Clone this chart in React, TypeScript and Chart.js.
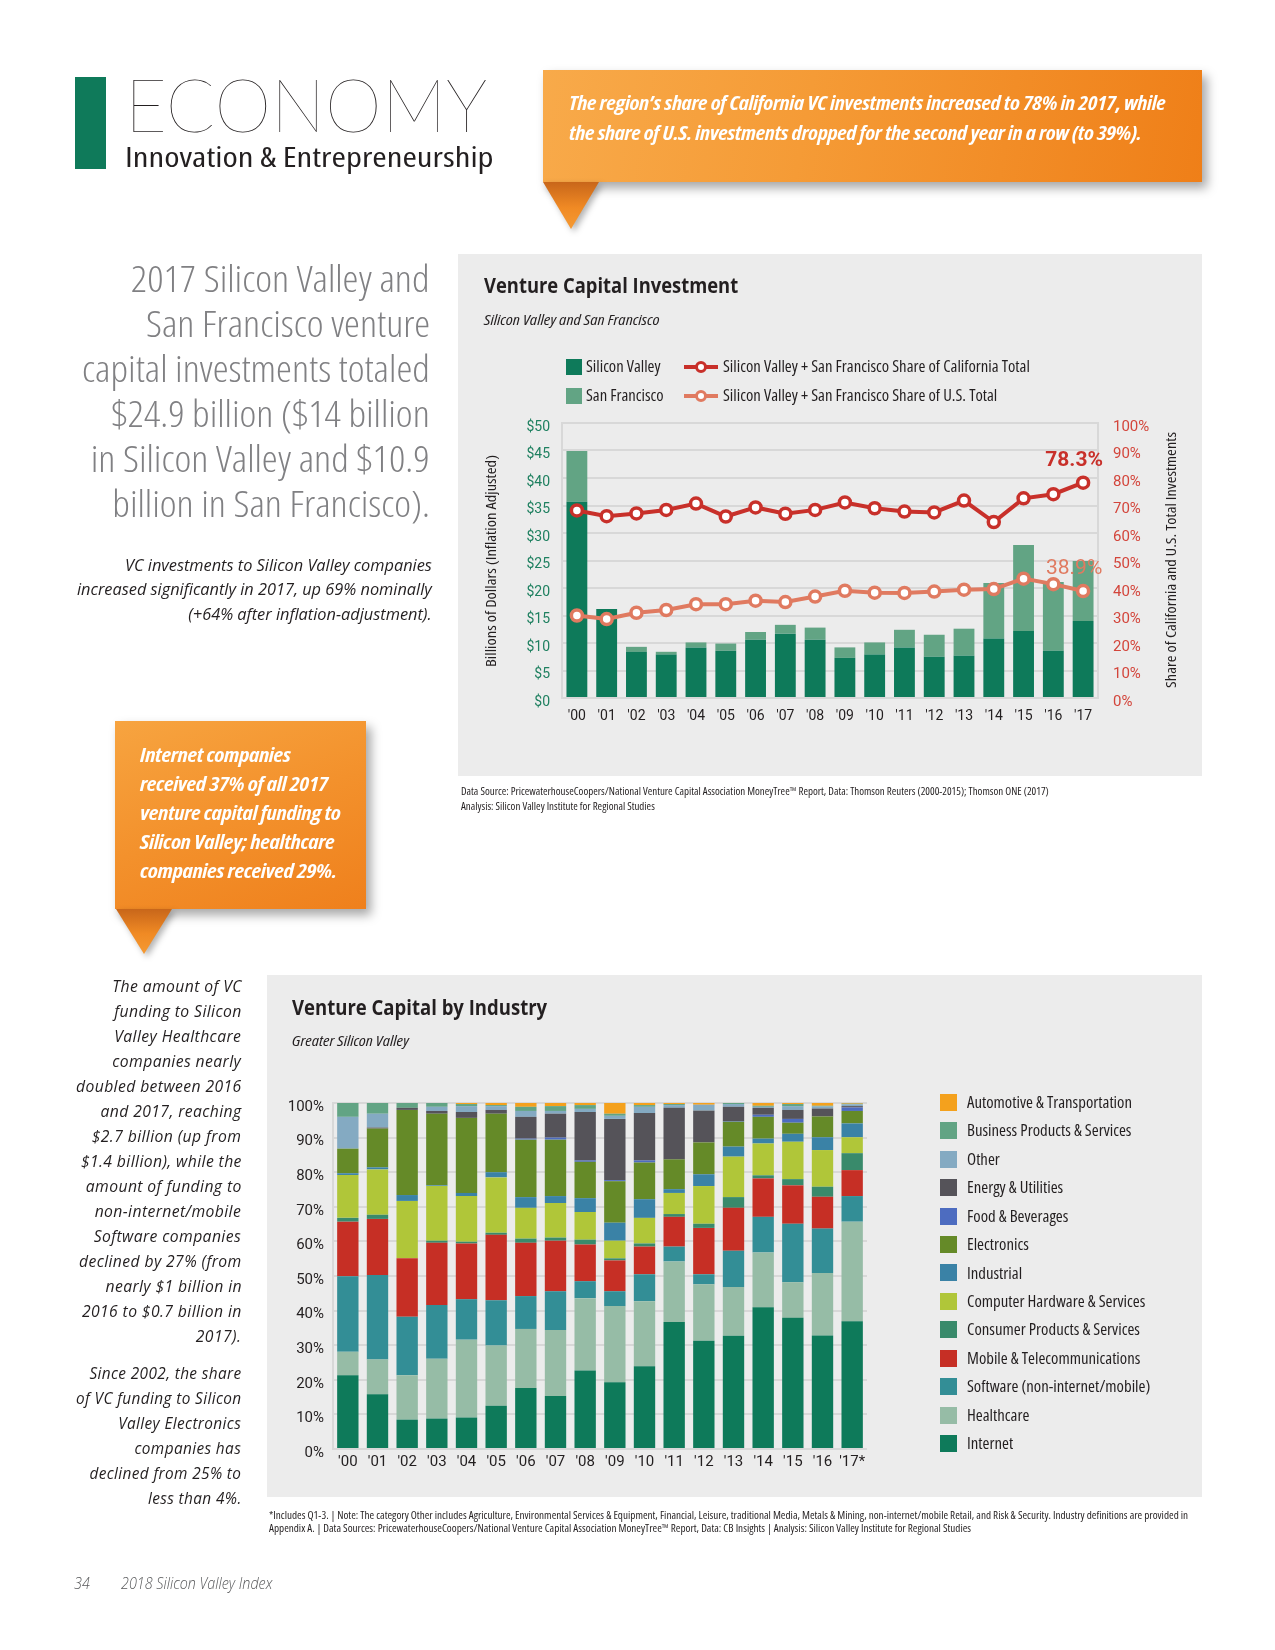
import React, { useEffect, useLayoutEffect, useRef } from 'react';
import { Chart, registerables } from 'chart.js';
Chart.register(...registerables);

// ---------- DATA: Venture Capital Investment ----------
const YEARS = ["'00", "'01", "'02", "'03", "'04", "'05", "'06", "'07", "'08", "'09", "'10", "'11", "'12", "'13", "'14", "'15", "'16", "'17"];
const SILICON_VALLEY = [35.7, 16.2, 8.4, 7.9, 9.2, 8.6, 10.6, 11.7, 10.6, 7.3, 7.9, 9.2, 7.5, 7.7, 10.8, 12.2, 8.6, 14.0];
const SAN_FRANCISCO = [9.2, 0, 0.9, 0.5, 0.9, 1.3, 1.4, 1.6, 2.2, 1.9, 2.2, 3.2, 4.0, 4.9, 10.1, 15.6, 12.5, 10.9];
const CA_SHARE = [68.2, 66.1, 67.1, 68.4, 70.7, 66.0, 69.3, 67.0, 68.4, 71.1, 69.0, 67.8, 67.5, 71.8, 64.0, 72.6, 74.1, 78.3];
const US_SHARE = [30.0, 28.7, 31.0, 32.0, 34.1, 34.1, 35.4, 34.9, 36.9, 39.0, 38.3, 38.2, 38.7, 39.4, 39.6, 43.4, 41.4, 38.9];
const TOP_BAR_NAMES = ['Silicon Valley', 'San Francisco'];
const TOP_LINE_NAMES = ['Silicon Valley + San Francisco Share of California Total', 'Silicon Valley + San Francisco Share of U.S. Total'];

// ---------- DATA: Venture Capital by Industry (% share) ----------
const IND_YEARS = ["'00", "'01", "'02", "'03", "'04", "'05", "'06", "'07", "'08", "'09", "'10", "'11", "'12", "'13", "'14", "'15", "'16", "'17*"];
const INTERNET = [21.3, 15.8, 8.5, 8.8, 9.1, 12.5, 17.6, 15.3, 22.7, 19.3, 23.9, 36.7, 31.3, 32.7, 41.0, 37.9, 32.8, 36.9];
const HEALTHCARE = [6.8, 10.1, 12.8, 17.3, 22.5, 17.4, 17.1, 19.1, 20.9, 22.0, 18.8, 17.5, 16.3, 14.1, 15.8, 10.3, 18.1, 28.8];
const SOFTWARE = [21.8, 24.4, 16.9, 15.5, 11.7, 13.1, 9.5, 11.2, 4.9, 4.3, 7.8, 4.3, 2.9, 10.5, 10.3, 16.9, 12.8, 7.4];
const MOBILE = [15.8, 16.2, 16.9, 18.0, 16.1, 18.9, 15.4, 14.6, 10.6, 8.9, 8.0, 8.6, 13.4, 12.4, 11.1, 11.1, 9.2, 7.5];
const CONSUMER = [1.1, 1.2, 0, 0.6, 0.5, 0.6, 1.2, 0.9, 1.4, 0.6, 0.9, 0.8, 1.2, 3.1, 0.9, 1.8, 2.9, 4.9];
const COMPUTER_HW = [12.4, 13.1, 16.6, 15.8, 13.2, 16.0, 8.9, 10.0, 8.0, 5.1, 7.4, 6.1, 10.9, 11.7, 9.2, 10.8, 10.6, 4.6];
const INDUSTRIAL = [0.5, 0.6, 1.7, 0.2, 0.9, 1.5, 3.1, 2.0, 4.0, 5.2, 5.4, 1.1, 3.4, 2.9, 1.4, 2.3, 3.7, 4.0];
const ELECTRONICS = [7.1, 11.2, 24.6, 20.7, 21.7, 16.9, 16.6, 16.3, 10.5, 12.0, 10.6, 8.6, 9.2, 7.2, 6.3, 3.2, 6.0, 3.6];
const FOOD = [0, 0, 0, 0, 0, 0, 0.3, 0.6, 0.4, 0.3, 0.6, 0, 0, 0.2, 0.6, 1.1, 0, 1.0];
const ENERGY = [0, 0.3, 0.6, 0.8, 1.7, 1.1, 6.3, 6.9, 14.0, 17.7, 13.7, 14.9, 9.2, 4.1, 2.0, 2.6, 2.3, 0.4];
const OTHER = [9.2, 4.0, 0, 1.2, 1.7, 1.1, 1.7, 0.8, 0.9, 0.9, 1.8, 0.8, 1.7, 0.8, 0.3, 1.1, 0.6, 0.5];
const BUSINESS = [4.0, 3.1, 1.4, 1.1, 0.6, 0.3, 1.2, 1.4, 1.1, 0.6, 0.5, 0.3, 0, 0.3, 0.3, 0.6, 0.2, 0.2];
const AUTOMOTIVE = [0, 0, 0, 0, 0.3, 0.6, 1.1, 0.9, 0.6, 3.1, 0.6, 0.3, 0.5, 0, 0.8, 0.3, 0.8, 0.2];

// ---------- STYLE ----------
const PAGE_W = 1275;
const SV_COLOR = '#0e7a5a';
const SF_COLOR = '#62a484';
const CA_COLOR = '#c8302a';
const US_COLOR = '#e07a60';
const GRID = '#d8d8d8';
const DARK = '#231f20';
const OPEN = "'Open Sans', 'Noto Sans', sans-serif";
const CANVAS_FONT = "'Liberation Sans Narrow', 'Roboto', 'Open Sans', sans-serif";

const INDUSTRY_SERIES = [
  { name: 'Internet', data: INTERNET, color: '#0e7a5a' },
  { name: 'Healthcare', data: HEALTHCARE, color: '#96bca6' },
  { name: 'Software (non-internet/mobile)', data: SOFTWARE, color: '#338e96' },
  { name: 'Mobile & Telecommunications', data: MOBILE, color: '#c62f25' },
  { name: 'Consumer Products & Services', data: CONSUMER, color: '#398a6b' },
  { name: 'Computer Hardware & Services', data: COMPUTER_HW, color: '#b0c639' },
  { name: 'Industrial', data: INDUSTRIAL, color: '#3a82a6' },
  { name: 'Electronics', data: ELECTRONICS, color: '#658a28' },
  { name: 'Food & Beverages', data: FOOD, color: '#4d6cc0' },
  { name: 'Energy & Utilities', data: ENERGY, color: '#555359' },
  { name: 'Other', data: OTHER, color: '#84aac2' },
  { name: 'Business Products & Services', data: BUSINESS, color: '#62a484' },
  { name: 'Automotive & Transportation', data: AUTOMOTIVE, color: '#f4a11d' },
];

// ---------- text helper: fits widest line to a target width ----------
type FitProps = {
  lines: string[];
  x: number;
  cy: number;
  lh: number;
  target: number;
  align?: 'left' | 'right';
  font: React.CSSProperties;
};
function FitLines({ lines, x, cy, lh, target, align = 'left', font }: FitProps) {
  const box = useRef<HTMLDivElement>(null);
  useLayoutEffect(() => {
    const run = () => {
      if (!box.current) return;
      const spans = Array.from(box.current.querySelectorAll('span')) as HTMLSpanElement[];
      const w = Math.max(...spans.map((s) => s.offsetWidth));
      const k = w > 0 ? target / w : 1;
      spans.forEach((s) => (s.style.transform = `scaleX(${k})`));
    };
    run();
    const f = (document as any).fonts;
    if (f && f.ready) f.ready.then(run);
  }, []);
  const right = align === 'right';
  return (
    <div
      ref={box}
      style={{
        position: 'absolute',
        top: cy - lh / 2,
        ...(right ? { right: PAGE_W - x } : { left: x }),
        textAlign: right ? 'right' : 'left',
        ...font,
      }}
    >
      {lines.map((t, i) => (
        <div key={i} style={{ height: lh, lineHeight: lh + 'px', whiteSpace: 'nowrap' }}>
          <span style={{ display: 'inline-block', transformOrigin: right ? 'right center' : 'left center' }}>{t}</span>
        </div>
      ))}
    </div>
  );
}

function RotLabel({ text, cx, cy, len, font }: { text: string; cx: number; cy: number; len: number; font: React.CSSProperties }) {
  const ref = useRef<HTMLSpanElement>(null);
  useLayoutEffect(() => {
    const run = () => {
      const s = ref.current;
      if (!s) return;
      const w = s.offsetWidth; // layout width, unaffected by the rotation
      if (w > 0) s.style.transform = `scaleX(${len / w})`;
    };
    run();
    const f = (document as any).fonts;
    if (f && f.ready) f.ready.then(run);
  }, []);
  return (
    <div
      style={{
        position: 'absolute',
        left: cx,
        top: cy,
        transform: 'translate(-50%, -50%) rotate(-90deg)',
        whiteSpace: 'nowrap',
        lineHeight: '20px',
        ...font,
      }}
    >
      <span ref={ref} style={{ display: 'inline-block', transformOrigin: 'center center' }}>{text}</span>
    </div>
  );
}

// ---------- Top chart ----------
const endLabelPlugin = {
  id: 'endLabels',
  afterDatasetsDraw(chart: any) {
    const ctx = chart.ctx;
    const items = [
      { idx: 0, text: CA_SHARE[CA_SHARE.length - 1].toFixed(1) + '%', color: CA_COLOR, weight: '700' },
      { idx: 1, text: US_SHARE[US_SHARE.length - 1].toFixed(1) + '%', color: US_COLOR, weight: '400' },
    ];
    ctx.save();
    items.forEach((it) => {
      const meta = chart.getDatasetMeta(it.idx);
      const pt = meta.data[meta.data.length - 1];
      ctx.font = `${it.weight} 21px ${CANVAS_FONT}`;
      ctx.fillStyle = it.color;
      ctx.textAlign = 'center';
      ctx.textBaseline = 'middle';
      ctx.fillText(it.text, pt.x - 9, pt.y - 22);
    });
    ctx.restore();
  },
};

function TopChart() {
  const ref = useRef<HTMLCanvasElement>(null);
  useEffect(() => {
    const lineDs = (label: string, data: number[], color: string, order: number) => ({
      type: 'line' as const,
      label,
      data,
      yAxisID: 'y1',
      borderColor: color,
      borderWidth: 4,
      pointRadius: 5.5,
      pointBorderWidth: 3.5,
      pointBackgroundColor: '#ffffff',
      pointBorderColor: color,
      order,
    });
    const chart = new Chart(ref.current!, {
      type: 'bar',
      data: {
        labels: YEARS,
        datasets: [
          lineDs(TOP_LINE_NAMES[0], CA_SHARE, CA_COLOR, 1) as any,
          lineDs(TOP_LINE_NAMES[1], US_SHARE, US_COLOR, 2) as any,
          { type: 'bar', label: TOP_BAR_NAMES[0], data: SILICON_VALLEY, backgroundColor: SV_COLOR, yAxisID: 'y', stack: 's', order: 3, barPercentage: 0.7, categoryPercentage: 1 },
          { type: 'bar', label: TOP_BAR_NAMES[1], data: SAN_FRANCISCO, backgroundColor: SF_COLOR, yAxisID: 'y', stack: 's', order: 4, barPercentage: 0.7, categoryPercentage: 1 },
        ],
      },
      options: {
        responsive: false,
        animation: false,
        layout: { padding: { top: 23, left: 0, right: 0, bottom: 0 } },
        plugins: { legend: { display: false }, tooltip: { enabled: false } },
        scales: {
          x: {
            stacked: true,
            grid: { display: false },
            border: { display: false },
            ticks: { color: DARK, font: { family: CANVAS_FONT, size: 14 }, padding: 2, maxRotation: 0 },
            afterFit: (s: any) => { s.height = 42; },
          },
          y: {
            stacked: true,
            position: 'left',
            min: 0,
            max: 50,
            ticks: { stepSize: 5, callback: (v: any) => '$' + v, color: '#1f8060', font: { family: CANVAS_FONT, size: 14 }, padding: 12, labelOffset: 4 },
            grid: { color: GRID, lineWidth: 2, drawTicks: false },
            border: { display: true, color: GRID, width: 2 },
            afterFit: (s: any) => { s.width = 102; },
          },
          y1: {
            position: 'right',
            min: 0,
            max: 100,
            ticks: { stepSize: 10, callback: (v: any) => v + '%', color: '#d3453b', font: { family: CANVAS_FONT, size: 15 }, padding: 7, labelOffset: 4 },
            grid: { display: false },
            border: { display: true, color: GRID, width: 2 },
            afterFit: (s: any) => { s.width = 104; },
          },
        },
      } as any,
      plugins: [endLabelPlugin],
    });
    return () => chart.destroy();
  }, []);
  return <canvas ref={ref} width={742} height={340} style={{ position: 'absolute', left: 460, top: 400, width: 742, height: 340 }} />;
}

// ---------- Bottom chart ----------
function IndustryChart() {
  const ref = useRef<HTMLCanvasElement>(null);
  useEffect(() => {
    const chart = new Chart(ref.current!, {
      type: 'bar',
      data: {
        labels: IND_YEARS,
        datasets: INDUSTRY_SERIES.map((s) => ({
          label: s.name,
          data: s.data,
          backgroundColor: s.color,
          borderWidth: 0,
          barPercentage: 0.72,
          categoryPercentage: 1,
        })),
      },
      options: {
        responsive: false,
        animation: false,
        layout: { padding: { top: 14, right: 22, left: 0, bottom: 0 } },
        plugins: { legend: { display: false }, tooltip: { enabled: false } },
        scales: {
          x: {
            stacked: true,
            grid: { display: false },
            border: { display: false },
            ticks: { color: DARK, font: { family: CANVAS_FONT, size: 15 }, padding: -4, maxRotation: 0 },
            afterFit: (s: any) => { s.height = 36; },
          },
          y: {
            stacked: true,
            min: 0,
            max: 100,
            ticks: { stepSize: 10, callback: (v: any) => v + '%', color: DARK, font: { family: CANVAS_FONT, size: 15 }, padding: 9, labelOffset: 4 },
            grid: { color: GRID, lineWidth: 2, drawTicks: false },
            border: { display: true, color: GRID, width: 2 },
            afterFit: (s: any) => { s.width = 64; },
          },
        },
      } as any,
    });
    return () => chart.destroy();
  }, []);
  return <canvas ref={ref} width={620} height={400} style={{ position: 'absolute', left: 269, top: 1085, width: 620, height: 400 }} />;
}

function LineMarker({ x, cy, color }: { x: number; cy: number; color: string }) {
  return (
    <>
      <div style={{ position: 'absolute', left: x, top: cy - 2, width: 34, height: 4, background: color }} />
      <div
        style={{
          position: 'absolute',
          left: x + 11,
          top: cy - 6,
          width: 12,
          height: 12,
          borderRadius: '50%',
          background: '#fff',
          border: `3.5px solid ${color}`,
          boxSizing: 'border-box',
        }}
      />
    </>
  );
}

function Pointer({ left, top, w, h }: { left: number; top: number; w: number; h: number }) {
  return (
    <div style={{ position: 'absolute', left, top, width: w, height: h, filter: 'drop-shadow(3px 3px 3px rgba(0,0,0,0.3))' }}>
      <div
        style={{
          width: '100%',
          height: '100%',
          clipPath: 'polygon(0 0, 100% 0, 50% 100%)',
          background: 'linear-gradient(180deg, #c8661a 0%, #f08a24 55%, #f59a33 100%)',
        }}
      />
    </div>
  );
}

const calloutFont: React.CSSProperties = {
  fontFamily: OPEN,
  fontWeight: 700,
  fontStyle: 'italic',
  fontSize: 20,
  fontStretch: 'condensed',
  color: '#ffffff',
  letterSpacing: '-0.3px',
};
const condFont = (size: number, extra: React.CSSProperties = {}): React.CSSProperties => ({
  fontFamily: OPEN,
  fontSize: size,
  fontStretch: 'condensed',
  color: DARK,
  ...extra,
});

export default function App() {
  useEffect(() => {
    document.body.style.margin = '0';
  }, []);
  const legendLines = INDUSTRY_SERIES.slice().reverse();
  const legendTop = 1102.3;
  const legendStep = 28.42;
  return (
    <div style={{ position: 'absolute', left: 0, top: 0, width: PAGE_W, height: 1650, background: '#ffffff', overflow: 'hidden' }}>
      {/* Header */}
      <div style={{ position: 'absolute', left: 75, top: 77, width: 31, height: 92, background: '#0f7a5a' }} />
      <FitLines lines={['ECONOMY']} x={125} cy={103} lh={80} target={362} font={{ fontFamily: "'Lato', 'Roboto', sans-serif", fontWeight: 200, fontSize: 75, color: DARK }} />
      <FitLines lines={['Innovation & Entrepreneurship']} x={125} cy={156.5} lh={32} target={368} font={condFont(26.5)} />

      {/* Callout 1 */}
      <div
        style={{
          position: 'absolute',
          left: 543,
          top: 70,
          width: 659,
          height: 112,
          background: 'linear-gradient(100deg, #f8aa4a 0%, #f59b36 40%, #ef7f18 100%)',
          boxShadow: '5px 6px 10px rgba(0,0,0,0.35)',
        }}
      />
      <Pointer left={543} top={182} w={56} h={47} />
      <FitLines
        lines={[
          'The region\u2019s share of California VC investments increased to 78% in 2017, while',
          'the share of U.S. investments dropped for the second year in a row (to 39%).',
        ]}
        x={569}
        cy={102.5}
        lh={30}
        target={596}
        font={calloutFont}
      />

      {/* Left intro text */}
      <FitLines
        lines={[
          '2017 Silicon Valley and',
          'San Francisco venture',
          'capital investments totaled',
          '$24.9 billion ($14 billion',
          'in Silicon Valley and $10.9',
          'billion in San Francisco).',
        ]}
        x={430}
        cy={277.5}
        lh={45}
        target={348}
        align="right"
        font={{ fontFamily: OPEN, fontWeight: 300, fontSize: 37, fontStretch: 'condensed', color: '#808083' }}
      />
      <FitLines
        lines={[
          'VC investments to Silicon Valley companies',
          'increased significantly in 2017, up 69% nominally',
          '(+64% after inflation-adjustment).',
        ]}
        x={432}
        cy={565}
        lh={24.8}
        target={355}
        align="right"
        font={{ fontFamily: OPEN, fontStyle: 'italic', fontSize: 16, color: DARK }}
      />

      {/* Top chart panel */}
      <div style={{ position: 'absolute', left: 458, top: 254, width: 744, height: 522, background: '#ececec' }} />
      <FitLines lines={['Venture Capital Investment']} x={484} cy={285} lh={28} target={254} font={{ fontFamily: OPEN, fontWeight: 700, fontSize: 21, color: DARK }} />
      <FitLines lines={['Silicon Valley and San Francisco']} x={484} cy={318.5} lh={22} target={175} font={condFont(15, { fontStyle: 'italic' })} />
      <div style={{ position: 'absolute', left: 566, top: 358.7, width: 16, height: 16, background: SV_COLOR }} />
      <div style={{ position: 'absolute', left: 566, top: 387.7, width: 16, height: 16, background: SF_COLOR }} />
      <FitLines lines={TOP_BAR_NAMES} x={586} cy={366.7} lh={29} target={78} font={condFont(16)} />
      <LineMarker x={684} cy={366.7} color={CA_COLOR} />
      <LineMarker x={684} cy={395.7} color={US_COLOR} />
      <FitLines lines={TOP_LINE_NAMES} x={723} cy={366.7} lh={29} target={307} font={condFont(16)} />
      <RotLabel text="Billions of Dollars (Inflation Adjusted)" cx={491} cy={561} len={212} font={condFont(14)} />
      <RotLabel text="Share of California and U.S. Total Investments" cx={1169.5} cy={560} len={256} font={condFont(15)} />
      <TopChart />
      <FitLines
        lines={[
          'Data Source: PricewaterhouseCoopers/National Venture Capital Association MoneyTree\u2122 Report, Data: Thomson Reuters (2000-2015); Thomson ONE (2017)',
          'Analysis: Silicon Valley Institute for Regional Studies',
        ]}
        x={461}
        cy={790.5}
        lh={15.8}
        target={588}
        font={condFont(11)}
      />

      {/* Callout 2 */}
      <div
        style={{
          position: 'absolute',
          left: 115,
          top: 721,
          width: 251,
          height: 188,
          background: 'linear-gradient(160deg, #f7a440 0%, #f3912c 50%, #ef801c 100%)',
          boxShadow: '5px 6px 10px rgba(0,0,0,0.35)',
        }}
      />
      <Pointer left={116} top={909} w={56} h={45} />
      <FitLines
        lines={['Internet companies', 'received 37% of all 2017', 'venture capital funding to', 'Silicon Valley; healthcare', 'companies received 29%.']}
        x={140}
        cy={754.7}
        lh={29}
        target={200}
        font={calloutFont}
      />

      {/* Left bottom text */}
      <FitLines
        lines={[
          'The amount of VC',
          'funding to Silicon',
          'Valley Healthcare',
          'companies nearly',
          'doubled between 2016',
          'and 2017, reaching',
          '$2.7 billion (up from',
          '$1.4 billion), while the',
          'amount of funding to',
          'non-internet/mobile',
          'Software companies',
          'declined by 27% (from',
          'nearly $1 billion in',
          '2016 to $0.7 billion in',
          '2017).',
        ]}
        x={241.5}
        cy={986.5}
        lh={25}
        target={166}
        align="right"
        font={{ fontFamily: OPEN, fontStyle: 'italic', fontSize: 16, color: DARK, letterSpacing: '0.4px' }}
      />
      <FitLines
        lines={['Since 2002, the share', 'of VC funding to Silicon', 'Valley Electronics', 'companies has', 'declined from 25% to', 'less than 4%.']}
        x={241.5}
        cy={1373.6}
        lh={25}
        target={166}
        align="right"
        font={{ fontFamily: OPEN, fontStyle: 'italic', fontSize: 16, color: DARK, letterSpacing: '0.4px' }}
      />

      {/* Bottom chart panel */}
      <div style={{ position: 'absolute', left: 267, top: 975, width: 935, height: 522, background: '#ececec' }} />
      <FitLines lines={['Venture Capital by Industry']} x={292} cy={1006.8} lh={28} target={255} font={{ fontFamily: OPEN, fontWeight: 700, fontSize: 21, color: DARK }} />
      <FitLines lines={['Greater Silicon Valley']} x={292} cy={1039.6} lh={22} target={117} font={condFont(15, { fontStyle: 'italic' })} />
      <IndustryChart />
      {legendLines.map((s, i) => (
        <div key={s.name} style={{ position: 'absolute', left: 940, top: legendTop + i * legendStep - 8.4, width: 17, height: 17, background: s.color }} />
      ))}
      <FitLines lines={legendLines.map((s) => s.name)} x={967} cy={legendTop} lh={legendStep} target={183} font={condFont(16)} />

      <FitLines
        lines={[
          '*Includes Q1-3. | Note: The category Other includes Agriculture, Environmental Services & Equipment, Financial, Leisure, traditional Media, Metals & Mining, non-internet/mobile Retail, and Risk & Security. Industry definitions are provided in',
          'Appendix A. | Data Sources: PricewaterhouseCoopers/National Venture Capital Association MoneyTree\u2122 Report, Data: CB Insights | Analysis: Silicon Valley Institute for Regional Studies',
        ]}
        x={269}
        cy={1514.6}
        lh={13.7}
        target={919}
        font={condFont(11)}
      />

      {/* Footer */}
      <FitLines lines={['34']} x={74} cy={1583} lh={22} target={16} font={{ fontFamily: OPEN, fontStyle: 'italic', fontWeight: 300, fontSize: 17, color: '#58595b' }} />
      <FitLines lines={['2018 Silicon Valley Index']} x={121} cy={1583} lh={22} target={151} font={{ fontFamily: OPEN, fontStyle: 'italic', fontWeight: 300, fontSize: 17, color: '#58595b' }} />
    </div>
  );
}
